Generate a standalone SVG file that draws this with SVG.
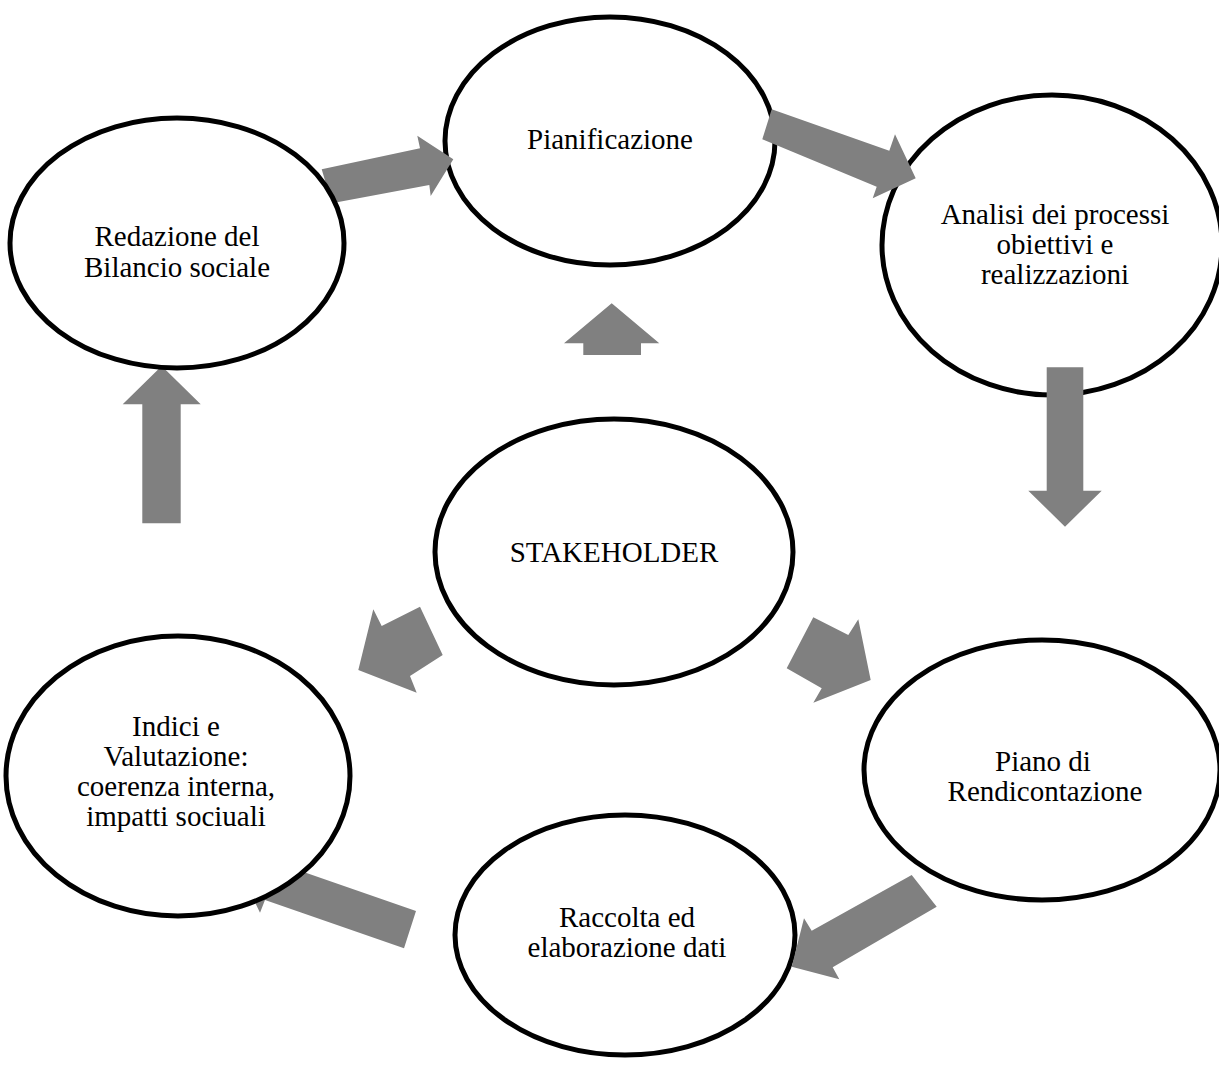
<svg xmlns="http://www.w3.org/2000/svg" width="1219" height="1080" viewBox="0 0 1219 1080">
<style>
.n{fill:#fff;stroke:#000;stroke-width:5}
.t{font-family:"Liberation Serif","Times New Roman",serif;font-size:29px;fill:#000;text-anchor:middle}
.a{fill:#808080;stroke:none}
</style>
<rect width="1219" height="1080" fill="#fff"/>
<g id="pianificazione"><ellipse class="n" cx="610" cy="141" rx="165" ry="124"/><text class="t" x="610" y="149">Pianificazione</text></g>
<g id="analisi"><ellipse class="n" cx="1052" cy="245" rx="170" ry="150"/><text class="t" x="1055" y="224">Analisi dei processi</text><text class="t" x="1055" y="254">obiettivi e</text><text class="t" x="1055" y="284">realizzazioni</text></g>
<g id="stakeholder"><ellipse class="n" cx="614" cy="552" rx="179" ry="133"/><text class="t" x="614" y="562">STAKEHOLDER</text></g>
<g id="raccolta"><ellipse class="n" cx="625" cy="935" rx="170" ry="120"/><text class="t" x="627" y="927">Raccolta ed</text><text class="t" x="627" y="957">elaborazione dati</text></g>
<g id="connectors">
<polygon class="a" points="321.7,169.3 420,148.3 417.3,135.7 453.3,159.3 430.7,196 429.3,185 331.7,203.3"/>
<polygon class="a" points="771.7,109.3 889.3,150.7 895,134.3 915.7,178.3 872.7,198.3 876.7,186.7 762.3,139.3"/>
<polygon class="a" points="1046.7,367.3 1083.3,367.3 1083.3,490.7 1101.7,490.7 1065,526.7 1028.3,490.7 1046.7,490.7"/>
<polygon class="a" points="583.3,355 583.3,343.3 564,343.3 611.7,303.3 659.3,343.3 641,343.3 641,355"/>
<polygon class="a" points="358.3,670 373.3,609.3 381.7,626 420,606.7 442.7,655 410,676 416.7,692.7"/>
<polygon class="a" points="813.3,617.3 848.3,635 858.3,619.3 870.7,680 813.3,702.7 821.7,688.3 786.7,668.3"/>
<polygon class="a" points="911.7,875 936.7,906.7 832.7,967.3 839.3,979.3 791.7,966.7 804,918.3 811.7,930.7"/>
<polygon class="a" points="142.3,523.3 142.3,404.3 122.7,404.3 161.7,366 200.7,404.3 180.7,404.3 180.7,523.3"/>
<polygon class="a" points="416,911 404,948.3 265,900 260,912.7 239.8,870.6 280.8,851 277,862.8"/>
</g>
<g id="piano"><ellipse class="n" cx="1042" cy="770" rx="178" ry="130"/><text class="t" x="1043" y="771">Piano di</text><text class="t" x="1045" y="801">Rendicontazione</text></g>
<g id="redazione"><ellipse class="n" cx="177" cy="243" rx="167" ry="125"/><text class="t" x="177" y="246">Redazione del</text><text class="t" x="177" y="277">Bilancio sociale</text></g>
<g id="indici"><ellipse class="n" cx="178" cy="776" rx="172" ry="140"/><text class="t" x="176" y="736">Indici e</text><text class="t" x="176" y="766">Valutazione:</text><text class="t" x="176" y="796">coerenza interna,</text><text class="t" x="176" y="826">impatti sociuali</text></g>
</svg>
